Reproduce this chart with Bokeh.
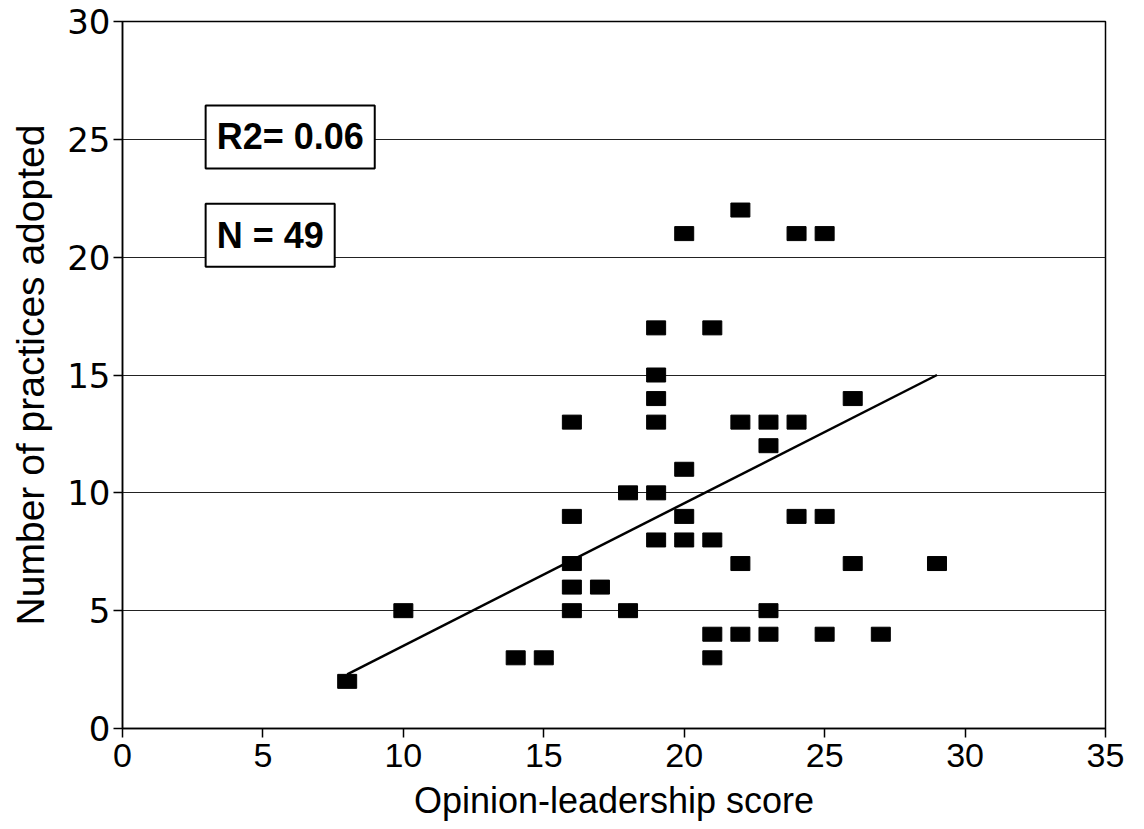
from bokeh.plotting import figure
from bokeh.models import Range1d, FixedTicker, Label
from bokeh.embed import file_html
from bokeh.resources import INLINE

# Data
score = [8, 10, 14, 15, 16, 16, 16, 16, 16, 17, 18, 18,
         19, 19, 19, 19, 19, 19, 20, 20, 20, 20,
         21, 21, 21, 21, 22, 22, 22, 22, 23, 23, 23, 23,
         24, 24, 24, 25, 25, 25, 26, 26, 27, 29]
practices = [2, 5, 3, 3, 13, 9, 7, 6, 5, 6, 10, 5,
             17, 15, 14, 13, 10, 8, 21, 11, 9, 8,
             17, 8, 4, 3, 22, 13, 7, 4, 13, 12, 5, 4,
             21, 13, 9, 21, 9, 4, 14, 7, 4, 7]
fit_x = [8, 29]
fit_y = [2.3, 15.0]
x_ticks = [0, 5, 10, 15, 20, 25, 30, 35]
y_ticks = [0, 5, 10, 15, 20, 25, 30]
r2_text = "R2= 0.06"
n_text = "N = 49"

p = figure(width=1144, height=829, output_backend="svg", toolbar_location=None,
           x_range=Range1d(0, 35), y_range=Range1d(0, 30),
           min_border_left=122, min_border_right=39, min_border_top=21,
           min_border_bottom=101)
p.background_fill_color = "white"
p.border_fill_color = "white"
p.outline_line_color = "black"
p.outline_line_width = 1.5

p.xgrid.grid_line_color = None
p.ygrid.grid_line_color = "#222222"
p.ygrid.grid_line_width = 1.2
p.ygrid.ticker = FixedTicker(ticks=y_ticks)

p.xaxis.ticker = FixedTicker(ticks=x_ticks)
p.yaxis.ticker = FixedTicker(ticks=y_ticks)
for ax in (p.xaxis[0], p.yaxis[0]):
    ax.axis_line_color = "black"
    ax.axis_line_width = 1.5
    ax.major_tick_line_color = "black"
    ax.major_tick_line_width = 1.5
    ax.major_tick_out = 9
    ax.major_tick_in = 0
    ax.minor_tick_line_color = None

p.xaxis.axis_label = "Opinion-leadership score"
p.yaxis.axis_label = "Number of practices adopted"
p.xaxis.major_label_text_font = "Liberation Sans"
p.xaxis.major_label_text_font_size = "34px"
p.xaxis.major_label_text_color = "black"
p.xaxis.major_label_standoff = 6
p.yaxis.major_label_text_font = "DejaVu Sans"
p.yaxis.major_label_text_font_style = "normal"
p.yaxis.major_label_text_font_size = "34px"
p.yaxis.major_label_text_color = "black"
p.yaxis.major_label_standoff = 3
for ax in (p.xaxis[0], p.yaxis[0]):
    ax.axis_label_text_font = "Liberation Sans"
    ax.axis_label_text_font_style = "normal"
    ax.axis_label_text_color = "black"
p.xaxis.axis_label_text_font_size = "36px"
p.yaxis.axis_label_text_font_size = "39px"
p.xaxis.axis_label_standoff = 10
p.yaxis.axis_label_standoff = 12

# regression line
p.line(fit_x, fit_y, line_color="black", line_width=2.5)

# data points: black rectangles
p.rect(x=score, y=practices, width=19, height=14, width_units="screen",
       height_units="screen", fill_color="black", line_color="black")

# annotation boxes
for txt, xx, yy in ((r2_text, 2.96, 25.1), (n_text, 2.96, 20.93)):
    p.add_layout(Label(x=xx, y=yy, text=txt, text_align="left", text_baseline="middle",
                       text_font="Liberation Sans", text_font_style="bold",
                       text_font_size="36px", text_color="black",
                       background_fill_color="white", border_line_color="black",
                       border_line_width=2, padding=11))

open("out.html", "w").write(file_html(p, INLINE))
